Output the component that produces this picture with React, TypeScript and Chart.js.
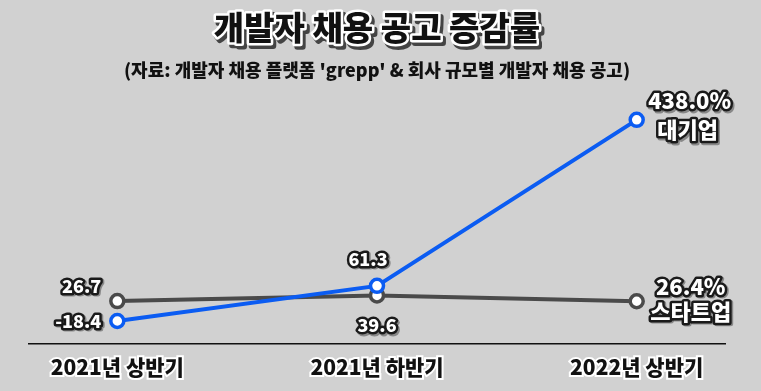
import React, { useEffect, useRef } from 'react';
import { Chart, registerables } from 'chart.js';

Chart.register(...registerables);

const categories = ['2021년 상반기', '2021년 하반기', '2022년 상반기'];
const seriesNames = ['대기업', '스타트업'];
const largeValues = [-18.4, 61.3, 438.0];
const startupValues = [26.7, 39.6, 26.4];
const titleText = '개발자 채용 공고 증감률';
const subtitleText = "(자료: 개발자 채용 플랫폼 'grepp' & 회사 규모별 개발자 채용 공고)";

const FONT = '"Noto Sans CJK KR", "Noto Sans", sans-serif';
const BLUE = '#0b5cf2';
const GRAY = '#4a4a4a';
const BG = '#d1d1d1';

const TITLE_SIZE = 33;
const TITLE_PAD_TOP = 8;

function outlined(
  ctx: CanvasRenderingContext2D,
  text: string,
  x: number,
  y: number,
  size: number,
  fill: string,
  stroke: string,
  sw: number,
  align: CanvasTextAlign = 'center'
) {
  ctx.save();
  ctx.font = `900 ${size}px ${FONT}`;
  ctx.textAlign = align;
  ctx.textBaseline = 'middle';
  ctx.lineJoin = 'round';
  ctx.strokeStyle = 'rgba(0,0,0,0.35)';
  ctx.lineWidth = sw;
  ctx.strokeText(text, x + 1.5, y + 1.5);
  ctx.strokeStyle = stroke;
  ctx.lineWidth = sw;
  ctx.strokeText(text, x, y);
  ctx.fillStyle = fill;
  ctx.fillText(text, x, y);
  ctx.restore();
}

const titleOutlinePlugin = {
  id: 'titleOutline',
  beforeDraw(chart: any) {
    const tb = chart.titleBlock;
    if (!tb) return;
    const ctx = chart.ctx;
    const x = (tb.left + tb.right) / 2;
    const y = tb.top + TITLE_PAD_TOP + (TITLE_SIZE * 1.2) / 2;
    ctx.save();
    ctx.font = `900 ${TITLE_SIZE}px ${FONT}`;
    ctx.textAlign = 'center';
    ctx.textBaseline = 'middle';
    ctx.lineJoin = 'round';
    ctx.strokeStyle = 'rgba(20,20,20,0.75)';
    ctx.lineWidth = 6;
    ctx.strokeText(titleText, x + 2.5, y + 2.5);
    ctx.strokeStyle = '#ffffff';
    ctx.lineWidth = 5;
    ctx.strokeText(titleText, x, y);
    ctx.restore();
  },
};

const labelPlugin = {
  id: 'pointLabels',
  afterDatasetsDraw(chart: any) {
    const ctx = chart.ctx;
    const large = chart.getDatasetMeta(0).data;
    const start = chart.getDatasetMeta(1).data;
    const fmt = (v: number) => v.toFixed(1);
    // 대기업
    outlined(ctx, fmt(largeValues[0]), large[0].x - 16, large[0].y, 18, '#fff', '#1a1a1a', 5, 'right');
    outlined(ctx, fmt(largeValues[1]), large[1].x - 9, large[1].y - 27, 18, '#fff', '#1a1a1a', 5);
    outlined(ctx, fmt(largeValues[2]) + '%', large[2].x + 53, large[2].y - 19, 22, '#fff', '#1a1a1a', 5);
    outlined(ctx, seriesNames[0], large[2].x + 51, large[2].y + 10, 22, '#fff', '#1a1a1a', 5);
    // 스타트업
    outlined(ctx, fmt(startupValues[0]), start[0].x - 16, start[0].y - 15, 18, '#fff', '#1a1a1a', 5, 'right');
    outlined(ctx, fmt(startupValues[1]), start[1].x, start[1].y + 30, 18, '#fff', '#1a1a1a', 5);
    outlined(ctx, fmt(startupValues[2]) + '%', start[2].x + 54, start[2].y - 15, 22, '#fff', '#1a1a1a', 5);
    outlined(ctx, seriesNames[1], start[2].x + 54, start[2].y + 10, 22, '#fff', '#1a1a1a', 5);
  },
};

export default function App() {
  const ref = useRef<HTMLCanvasElement | null>(null);

  useEffect(() => {
    if (!ref.current) return;
    const toXY = (arr: number[]) => arr.map((v, i) => ({ x: i, y: v }));
    const chart = new Chart(ref.current, {
      type: 'line',
      data: {
        datasets: [
          {
            label: seriesNames[0],
            data: toXY(largeValues),
            borderColor: BLUE,
            backgroundColor: '#ffffff',
            borderWidth: 4,
            pointRadius: 6.5,
            pointBorderWidth: 3.5,
            pointBackgroundColor: '#ffffff',
            pointBorderColor: BLUE,
            tension: 0,
          },
          {
            label: seriesNames[1],
            data: toXY(startupValues),
            borderColor: GRAY,
            backgroundColor: '#ffffff',
            borderWidth: 4,
            pointRadius: 6.5,
            pointBorderWidth: 3.5,
            pointBackgroundColor: '#ffffff',
            pointBorderColor: GRAY,
            tension: 0,
          },
        ],
      },
      options: {
        animation: false,
        responsive: true,
        maintainAspectRatio: false,
        layout: { padding: { left: 29, right: 36, top: 0, bottom: 0 } },
        plugins: {
          legend: { display: false },
          tooltip: { enabled: false },
          title: {
            display: true,
            text: titleText,
            color: '#111111',
            font: { family: FONT, size: TITLE_SIZE, weight: 900 as any },
            padding: { top: TITLE_PAD_TOP, bottom: 0 },
          },
          subtitle: {
            display: true,
            text: subtitleText,
            color: '#111111',
            font: { family: FONT, size: 18, weight: 900 as any },
            padding: { top: 11.6, bottom: 0 },
          },
        },
        scales: {
          x: {
            type: 'linear',
            min: -0.34,
            max: 2.34,
            grid: { display: false, drawTicks: false },
            border: { display: true, color: '#111111', width: 1.5 },
            afterBuildTicks: (scale: any) => {
              scale.ticks = categories.map((_, i) => ({ value: i }));
            },
            afterFit: (scale: any) => {
              scale.height = 47;
            },
            ticks: {
              padding: 10,
              color: '#111111',
              font: { family: FONT, size: 21, weight: 900 as any },
              textStrokeColor: '#ffffff',
              textStrokeWidth: 4,
              callback: (v: any) => categories[Math.round(Number(v))] ?? '',
              maxRotation: 0,
              autoSkip: false,
            } as any,
          },
          y: {
            display: false,
            min: -70.6,
            max: 526.5,
          },
        },
      },
      plugins: [titleOutlinePlugin, labelPlugin],
    });
    return () => chart.destroy();
  }, []);

  return (
    <div style={{ position: 'fixed', left: 0, top: 0, width: 761, height: 391, background: BG }}>
      <canvas ref={ref} />
    </div>
  );
}
